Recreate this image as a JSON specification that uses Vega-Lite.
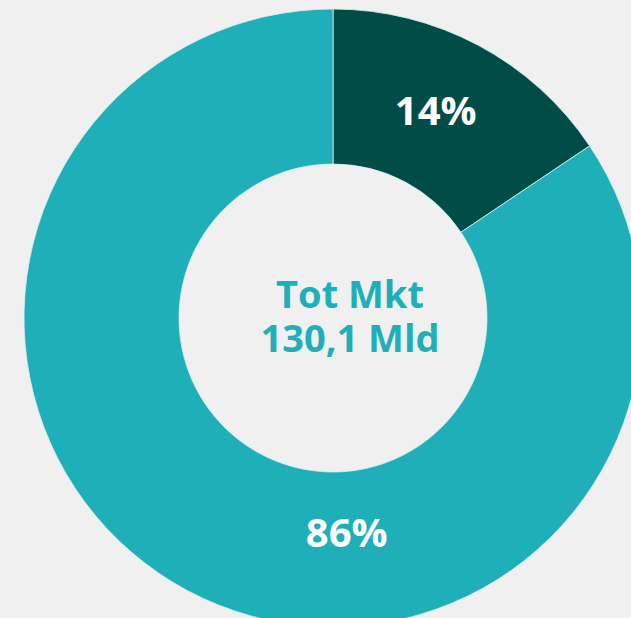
{
  "$schema": "https://vega.github.io/schema/vega-lite/v6.json",
  "autosize": {"type": "none"},
  "padding": {"left": 35, "top": 18, "right": 0, "bottom": 0},
  "width": 596,
  "height": 600,
  "background": "#f0f0f0",
  "view": {"stroke": null},
  "config": {"font": "Open Sans"},
  "data": {"values": [
    {"segment": "Quota", "value": 15.6, "label": "14%"},
    {"segment": "Resto", "value": 84.4, "label": "86%"}
  ]},
  "encoding": {
    "theta": {"field": "value", "type": "quantitative", "stack": true},
    "order": {"field": "value", "sort": "ascending"}
  },
  "layer": [
    {
      "mark": {"type": "arc", "outerRadius": 309, "innerRadius": 154, "stroke": "#d8f0f0", "strokeWidth": 0.8},
      "encoding": {
        "color": {"field": "segment", "type": "nominal", "scale": {"domain": ["Quota", "Resto"], "range": ["#004d47", "#1eafb8"]}, "legend": null}
      }
    },
    {
      "transform": [{"filter": "datum.segment === 'Quota'"}],
      "mark": {"type": "text", "radius": 231, "fontSize": 40, "fontWeight": "bold", "color": "#ffffff", "align": "center", "baseline": "middle", "dx": -6, "dy": -1},
      "encoding": {"text": {"field": "label"}}
    },
    {
      "transform": [{"filter": "datum.segment === 'Resto'"}],
      "mark": {"type": "text", "radius": 231, "fontSize": 40, "fontWeight": "bold", "color": "#ffffff", "align": "center", "baseline": "middle", "dx": -95, "dy": 13},
      "encoding": {"text": {"field": "label"}}
    },
    {
      "data": {"values": [{"line": "Tot Mkt"}]},
      "mark": {"type": "text", "fontSize": 38, "fontWeight": "bold", "color": "#1eafb8", "align": "center", "baseline": "middle", "dx": 17, "dy": -21},
      "encoding": {"text": {"field": "line"}, "theta": null, "order": null}
    },
    {
      "data": {"values": [{"line": "130,1 Mld"}]},
      "mark": {"type": "text", "fontSize": 38, "fontWeight": "bold", "color": "#1eafb8", "align": "center", "baseline": "middle", "dx": 17, "dy": 23},
      "encoding": {"text": {"field": "line"}, "theta": null, "order": null}
    }
  ]
}
